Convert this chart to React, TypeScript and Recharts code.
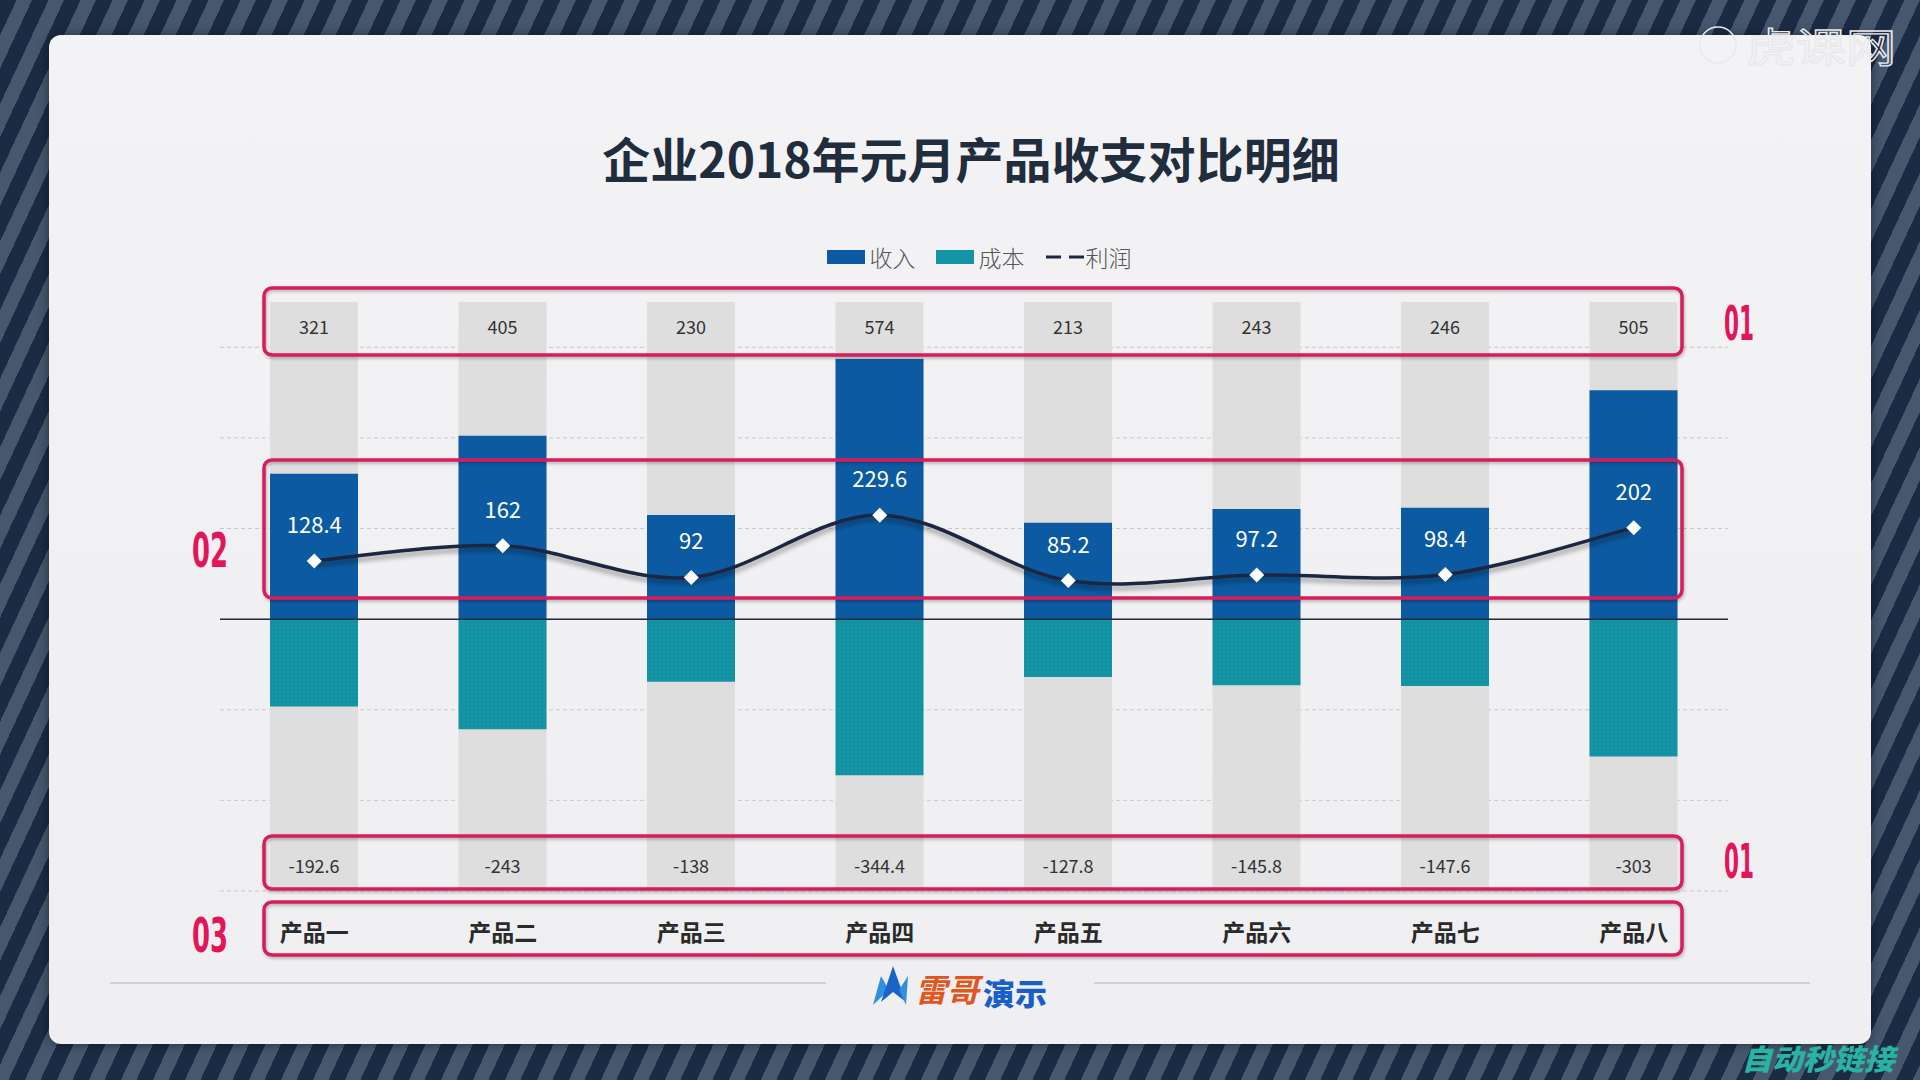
import React from "react";
import { ComposedChart, Bar, Line, XAxis, YAxis, CartesianGrid, ReferenceLine, LabelList, Legend } from "recharts";

// data
const products = ["产品一", "产品二", "产品三", "产品四", "产品五", "产品六", "产品七", "产品八"];
const revenue = [321, 405, 230, 574, 213, 243, 246, 505];
const cost = [-192.6, -243, -138, -344.4, -127.8, -145.8, -147.6, -303];
const profit = [128.4, 162, 92, 229.6, 85.2, 97.2, 98.4, 202];
const yTicks = [-600, -400, -200, 0, 200, 400, 600];
const yDomain = [-600, 700];
const legendOrder = ["收入", "成本", "利润"];

const rows = products.map((name, i) => ({ name, revenue: revenue[i], cost: cost[i], profit: profit[i] }));

const W = 1920;
const H = 1080;
const M = { top: 302, right: 192, bottom: 129, left: 220 };
const PLOT_TOP = M.top;
const PLOT_BOTTOM = H - M.bottom - 60;

const FONT = "'Noto Sans CJK SC', 'Noto Sans', sans-serif";
const BLUE = "#0c5ba2";
const TEAL = "#1494a5";
const NAVY = "#1b2740";
const RED = "#d81b5c";
const swatch: Record<string, string> = { 收入: BLUE, 成本: TEAL };

// catmull-rom style smoothing, close to the office "smooth line"
const smoothCurve = (context: any) => {
  let pts: number[][] = [];
  return {
    areaStart() {},
    areaEnd() {},
    lineStart() { pts = []; },
    lineEnd() {
      if (!pts.length) return;
      context.moveTo(pts[0][0], pts[0][1]);
      const k = 1 / 6;
      for (let i = 0; i < pts.length - 1; i++) {
        const p0 = pts[Math.max(i - 1, 0)];
        const p1 = pts[i];
        const p2 = pts[i + 1];
        const p3 = pts[Math.min(i + 2, pts.length - 1)];
        context.bezierCurveTo(
          p1[0] + (p2[0] - p0[0]) * k, p1[1] + (p2[1] - p0[1]) * k,
          p2[0] - (p3[0] - p1[0]) * k, p2[1] - (p3[1] - p1[1]) * k,
          p2[0], p2[1]
        );
      }
    },
    point(x: number, y: number) { pts.push([+x, +y]); },
  };
};

const Diamond = (p: any) => {
  const { cx, cy } = p;
  if (cx == null || cy == null) return null;
  const r = 7.5;
  return <path d={`M${cx},${cy - r}L${cx + r},${cy}L${cx},${cy + r}L${cx - r},${cy}Z`} fill="#fff" />;
};

const TopLabel = (p: any) => (
  <text x={p.x + p.width / 2} y={PLOT_TOP + 24} textAnchor="middle" dominantBaseline="central"
    fontSize={18} fill="#333" fontFamily={FONT}>{p.value}</text>
);

const BottomLabel = (p: any) => (
  <text x={p.x + p.width / 2} y={PLOT_BOTTOM - 26} textAnchor="middle" dominantBaseline="central"
    fontSize={18} fill="#333" fontFamily={FONT}>{p.value}</text>
);

const ProfitLabel = (p: any) => (
  <text x={p.x} y={p.y - 38} textAnchor="middle" dominantBaseline="central"
    fontSize={22} fill="#fff" fontFamily={FONT}>{p.value}</text>
);

const renderLegend = (props: any) => {
  const items = [...(props.payload || [])].sort(
    (a: any, b: any) => legendOrder.indexOf(a.value) - legendOrder.indexOf(b.value)
  );
  return (
    <div style={{ display: "flex", justifyContent: "center", alignItems: "center", paddingLeft: 58, fontFamily: FONT, fontSize: 23, fontWeight: 300, color: "#555" }}>
      {items.map((it: any) => (
        <div key={it.value} style={{ display: "flex", alignItems: "center", marginRight: 20 }}>
          {it.type === "line" ? (
            <svg width={40} height={14} style={{ marginRight: 1 }}>
              <line x1={1} x2={39} y1={7} y2={7} stroke={NAVY} strokeWidth={3} strokeDasharray="15 8" />
            </svg>
          ) : (
            <span style={{ display: "inline-block", width: 38, height: 14, background: swatch[it.value], marginRight: 5 }} />
          )}
          <span>{it.value}</span>
        </div>
      ))}
    </div>
  );
};

// grid rows only at the value ticks (no extra line on the plot's top edge)
const gridRows = ({ offset }: any) => {
  const top = offset?.top ?? PLOT_TOP;
  const h = offset?.height ?? PLOT_BOTTOM - PLOT_TOP;
  return yTicks.map((t) => top + ((yDomain[1] - t) / (yDomain[1] - yDomain[0])) * h);
};

const Box = ({ x, y, w, h }: { x: number; y: number; w: number; h: number }) => (
  <rect x={x} y={y} width={w} height={h} rx={8} fill="none" stroke={RED} strokeWidth={3.5} filter="url(#boxShadow)" />
);

const Tag = ({ x, y, t }: { x: number; y: number; t: string }) => (
  <text x={x} y={y} textAnchor="middle" dominantBaseline="central" fontFamily="'DejaVu Sans Condensed', 'Liberation Sans', sans-serif"
    fontWeight={700} fontSize={48} fill="#e2145a" textLength={t === "01" ? 30 : 36} lengthAdjust="spacingAndGlyphs">{t}</text>
);

export default function App() {
  return (
    <div style={{ position: "fixed", left: 0, top: 0, width: W, height: H, overflow: "hidden", fontFamily: FONT,
      background: "repeating-linear-gradient(115deg, #1c2b44 0px, #1c2b44 15px, #46576e 15px, #46576e 29px)" }}>
      <div style={{ position: "absolute", left: 49, top: 35, width: 1822, height: 1009, borderRadius: 12,
        background: "linear-gradient(#f3f3f5, #efeff1)", boxShadow: "0 0 12px rgba(0,0,0,0.45)" }} />

      <div style={{ position: "absolute", left: 0, top: 0 }}>
        <ComposedChart width={W} height={H} data={rows} margin={M} stackOffset="sign" barSize={88}>
          <defs>
            <filter id="lineShadow" x="-10%" y="-50%" width="120%" height="200%">
              <feDropShadow dx={0} dy={4} stdDeviation={2.5} floodColor="#000" floodOpacity={0.4} />
            </filter>
            <pattern id="costFill" width={4} height={4} patternUnits="userSpaceOnUse">
              <rect width={4} height={4} fill={TEAL} />
              <circle cx={2} cy={2} r={0.8} fill="#0f8898" />
            </pattern>
          </defs>
          <CartesianGrid vertical={false} stroke="#c9c9cc" strokeDasharray="4 3" horizontalCoordinatesGenerator={gridRows} />
          <XAxis dataKey="name" interval={0} tickLine={false} axisLine={false} height={60} tickMargin={28}
            tick={{ fill: "#2a2a2a", fontSize: 23, fontWeight: 700, fontFamily: FONT }} />
          <YAxis hide domain={yDomain} ticks={yTicks} />
          <Legend verticalAlign="middle" align="center" content={renderLegend}
            wrapperStyle={{ top: 240, left: 0, width: W, height: 32 }} />
          <Bar dataKey="revenue" name="收入" stackId="s" fill={BLUE} legendType="rect"
            background={{ fill: "#dedede" }} isAnimationActive={false}>
            <LabelList dataKey="revenue" content={TopLabel} />
          </Bar>
          <Bar dataKey="cost" name="成本" stackId="s" fill="url(#costFill)" legendType="rect" isAnimationActive={false}>
            <LabelList dataKey="cost" content={BottomLabel} />
          </Bar>
          <ReferenceLine y={0} stroke="#1f2a3a" strokeWidth={1.5} />
          <Line dataKey="profit" name="利润" type={smoothCurve as any} stroke={NAVY} strokeWidth={3.5}
            filter="url(#lineShadow)" dot={<Diamond />} activeDot={false} legendType="line" isAnimationActive={false}>
            <LabelList dataKey="profit" content={ProfitLabel} />
          </Line>
        </ComposedChart>
      </div>

      <svg width={W} height={H} style={{ position: "absolute", left: 0, top: 0, pointerEvents: "none" }}>
        <defs>
          <filter id="boxShadow" x="-5%" y="-20%" width="110%" height="140%">
            <feDropShadow dx={1} dy={2} stdDeviation={1.5} floodColor="#000" floodOpacity={0.25} />
          </filter>
        </defs>
        <text x={971} y={157} textAnchor="middle" dominantBaseline="central" fontSize={48} fontWeight={700}
          fill="#1f2d3d" fontFamily={FONT}>企业2018年元月产品收支对比明细</text>

        <Box x={264} y={288} w={1418} h={67} />
        <Box x={264} y={460} w={1418} h={138} />
        <Box x={264} y={836} w={1418} h={53} />
        <Box x={264} y={902} w={1418} h={53} />
        <Tag x={1739} y={323} t="01" />
        <Tag x={210} y={550} t="02" />
        <Tag x={1739} y={861} t="01" />
        <Tag x={210} y={935} t="03" />

        <line x1={110} x2={826} y1={983} y2={983} stroke="#b4b4b8" strokeWidth={1.2} />
        <line x1={1094} x2={1810} y1={983} y2={983} stroke="#b4b4b8" strokeWidth={1.2} />
        <polygon points="873,1005 881,976 889,990" fill="#2f8fe0" />
        <polygon points="881,1002 893,966 906,1002 893,992" fill="#1b63c6" />
        <polygon points="906,1005 899,990 908,976" fill="#2f8fe0" />
        <text x={947} y={988} textAnchor="middle" dominantBaseline="central" fontSize={32} fontWeight={700}
          fontStyle="italic" fill="#e0561c" fontFamily={FONT}>雷哥</text>
        <text x={1015} y={992} textAnchor="middle" dominantBaseline="central" fontSize={30} fontWeight={900}
          fill="#1a5fc8" fontFamily={FONT} textLength={64} lengthAdjust="spacingAndGlyphs">演示</text>

        <circle cx={1718} cy={45} r={18} fill="none" stroke="#e9e9ec" strokeWidth={1.5} />
        <text x={1821} y={45} textAnchor="middle" dominantBaseline="central" fontSize={40} fill="none"
          stroke="#e9e9ec" strokeWidth={1.3} fontFamily={FONT} textLength={150} lengthAdjust="spacingAndGlyphs">虎课网</text>

        <text x={1818} y={1057} textAnchor="middle" dominantBaseline="central" fontSize={29} fontWeight={900}
          fontStyle="italic" fill="#29b3a3" fontFamily={FONT} textLength={153} lengthAdjust="spacingAndGlyphs">自动秒链接</text>
      </svg>
    </div>
  );
}
